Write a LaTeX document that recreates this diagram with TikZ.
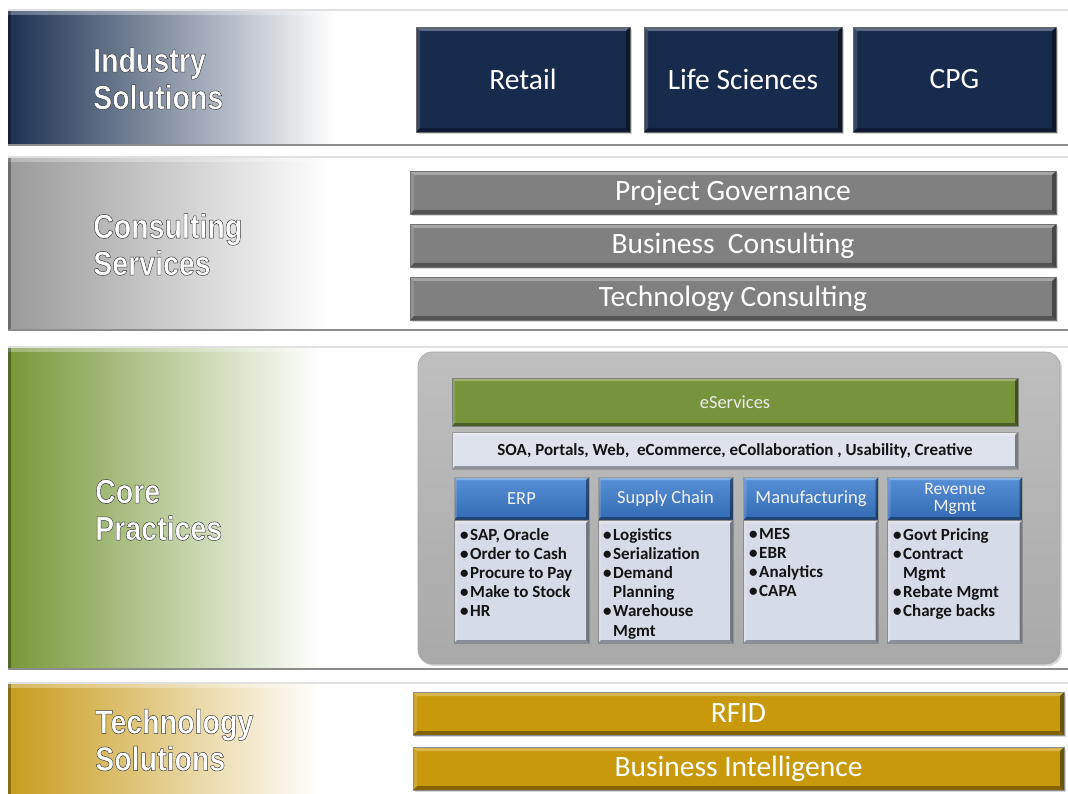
\documentclass[tikz,border=0pt]{standalone}
\usepackage{fontspec}
\setmainfont{Carlito}
\newfontfamily\lblfont{Liberation Sans}
\usetikzlibrary{shadows}
\definecolor{navybox}{HTML}{172B4D}
\definecolor{navyband}{HTML}{1C3152}
\definecolor{greyband}{HTML}{9A9A9A}
\definecolor{greenband}{HTML}{779838}
\definecolor{goldband}{HTML}{C89C1C}
\definecolor{greybar}{HTML}{808080}
\definecolor{goldbar}{HTML}{C8990A}
\definecolor{esgreen}{HTML}{77933C}
\definecolor{panelgrey}{HTML}{A9A9A9}
\definecolor{soafill}{HTML}{DDE2EC}
\definecolor{hdrblue}{HTML}{3B7DD2}
\definecolor{bodyfill}{HTML}{D5DBE7}

\newcommand\layerband[5]{% #1 top, #2 bottom, #3 colour, #4 gradient end x, #5 mid colour
  \shade[left color=#3, middle color=#5, right color=white] (8,#1) rectangle (#4,#2);
  \fill[white,opacity=.30] (8,#1) rectangle (#4,#1+5);
  \fill[black,opacity=.30] (8,#1) rectangle (11,#2);
  \draw[black!12,line width=1.5pt] (8,#1) -- (1068,#1);
  \draw[black!45,line width=2.5pt] (8,#2) -- (1068,#2);
}
% white label text with a dark outline (fill + stroke text rendering)
\newcommand\shtxt[1]{\special{pdf:literal direct 2 Tr 0.5 w 1 j 0.22 0.22 0.22 RG}#1\special{pdf:literal direct 0 Tr}}

\tikzset{
  bvl/.style={path picture={
    \fill[white,opacity=.30] (path picture bounding box.north west) -- (path picture bounding box.north east)
      -- ([xshift=-#1,yshift=-#1]path picture bounding box.north east) -- ([xshift=#1,yshift=-#1]path picture bounding box.north west) -- cycle;
    \fill[white,opacity=.15] (path picture bounding box.north west) -- (path picture bounding box.south west)
      -- ([xshift=#1,yshift=#1]path picture bounding box.south west) -- ([xshift=#1,yshift=-#1]path picture bounding box.north west) -- cycle;
    \fill[black,opacity=.35] (path picture bounding box.south west) -- (path picture bounding box.south east)
      -- ([xshift=-#1,yshift=#1]path picture bounding box.south east) -- ([xshift=#1,yshift=#1]path picture bounding box.south west) -- cycle;
    \fill[black,opacity=.45] (path picture bounding box.north east) -- (path picture bounding box.south east)
      -- ([xshift=-#1,yshift=#1]path picture bounding box.south east) -- ([xshift=-#1,yshift=-#1]path picture bounding box.north east) -- cycle;
  }},
  bvl/.default=4pt,
  lbl/.style={font=\lblfont\bfseries\fontsize{34}{37}\selectfont, text=white, align=left, anchor=west, inner sep=0pt, xscale=0.84},
  topbox/.style={draw=black!60, line width=.6pt, fill=navybox, bvl=4pt, text=white, font=\fontsize{29.5}{31}\selectfont, minimum height=105pt, inner sep=0pt,
    drop shadow={opacity=.35, shadow xshift=2pt, shadow yshift=-2pt}},
  greybarbox/.style={draw=black!55, line width=.6pt, fill=greybar, bvl=4pt, text=white, font=\fontsize{29.5}{31}\selectfont, minimum width=646pt, minimum height=43pt, inner sep=0pt,
    drop shadow={opacity=.3, shadow xshift=2pt, shadow yshift=-2pt}},
  goldbarbox/.style={draw=black!45, line width=.6pt, fill=goldbar, bvl=4pt, text=white, font=\fontsize{29.5}{31}\selectfont, minimum width=651pt, minimum height=43pt, inner sep=0pt,
    drop shadow={opacity=.3, shadow xshift=2pt, shadow yshift=-2pt}},
  hdrbox/.style={draw=black!40, line width=.5pt, top color=hdrblue!85!white, bottom color=hdrblue!85!black, bvl=3pt, text=white!95!black, font=\fontsize{18.5}{18}\selectfont, align=center,
    minimum width=135pt, minimum height=43pt, inner sep=0pt},
  bodybox/.style={draw=black!45, line width=.5pt, fill=bodyfill, bvl=3pt, minimum width=135pt, minimum height=123pt, inner sep=0pt},
  bullets/.style={anchor=north west, align=left, inner sep=0pt, text=black!92, font=\bfseries\fontsize{17}{19.2}\selectfont},
}
\newcommand\bu{\makebox[10pt][l]{\textbullet}}
\newcommand\bi{\hspace{10pt}}

\begin{document}
\begin{tikzpicture}[x=1pt,y=-1pt]
\useasboundingbox (0,0) rectangle (1068,794);
\fill[white] (0,0) rectangle (1068,794);

% ---- bands
\layerband{10}{145}{navyband}{335}{navyband!50!white}
\layerband{157}{330}{greyband}{330}{greyband!55!white}
\layerband{347}{669}{greenband}{320}{greenband!45!white}
\shade[left color=goldband, middle color=goldband!50!white, right color=white] (8,683) rectangle (320,800);
\fill[white,opacity=.30] (8,683) rectangle (320,688);
\fill[black,opacity=.30] (8,683) rectangle (11,800);
\draw[black!12,line width=1.5pt] (8,683) -- (1068,683);

% ---- band labels
\node[lbl] (l1) at (93,78.5) {\shtxt{Industry\\Solutions}};
\node[lbl] (l2) at (93,244.5) {\shtxt{Consulting\\Services}};
\node[lbl] (l3) at (95,510) {\shtxt{Core\\Practices}};
\node[lbl] (l4) at (95,740) {\shtxt{Technology\\Solutions}};

% ---- industry solutions
\node[topbox, minimum width=214pt] (retail) at (523,79.5) {Retail};
\node[topbox, minimum width=198pt] (life) at (743,79.5) {Life Sciences};
\node[topbox, minimum width=203pt] (cpg) at (954.5,79.5) {CPG};

% ---- consulting services
\node[greybarbox] (pg) at (733,192.5) {Project Governance};
\node[greybarbox] (bc) at (733,245.5) {Business\ \ Consulting};
\node[greybarbox] (tc) at (733,298.5) {Technology Consulting};

% ---- core practices
\node[draw=black!35, line width=.6pt, rounded corners=14pt, top color=panelgrey!75!white, bottom color=panelgrey,
      minimum width=642pt, minimum height=312pt, inner sep=0pt,
      drop shadow={opacity=.3, shadow xshift=2pt, shadow yshift=-2pt}] (panel) at (739,508) {};
\node[draw=black!50, line width=.8pt, fill=esgreen, bvl=3pt, minimum width=566pt, minimum height=48pt, inner sep=0pt,
      text=white!92!black, font=\fontsize{18.5}{18}\selectfont] (es) at (735,402) {eServices};
\node[draw=black!40, line width=.6pt, fill=soafill, bvl=3pt, minimum width=566pt, minimum height=37pt, inner sep=0pt,
      text=black!92, font=\bfseries\fontsize{17}{18}\selectfont] (soa) at (735,450.5) {SOA, Portals, Web,\ \ eCommerce, eCollaboration , Usability, Creative};

\node[hdrbox] (erp) at (521.5,498.5) {ERP};
\node[hdrbox] (sc) at (665.5,498.5) {Supply Chain};
\node[hdrbox] (mfg) at (811,498.5) {Manufacturing};
\node[hdrbox, font=\fontsize{17.5}{17}\selectfont] (rev) at (955,498.5) {Revenue\\Mgmt};

\node[bodybox] (erpb) at (521.5,581.5) {};
\node[bodybox] (scb) at (665.5,581.5) {};
\node[bodybox] (mfgb) at (811,581.5) {};
\node[bodybox] (revb) at (955,581.5) {};

\node[bullets] (erpt) at (460,528) {\bu SAP, Oracle\\\bu Order to Cash\\\bu Procure to Pay\\\bu Make to Stock\\\bu HR};
\node[bullets] (sct) at (603,528) {\bu Logistics\\\bu Serialization\\\bu Demand\\\bi Planning\\\bu Warehouse\\\bi Mgmt};
\node[bullets] (mfgt) at (749,528) {\bu MES\\\bu EBR\\\bu Analytics\\\bu CAPA};
\node[bullets] (revt) at (893,528) {\bu Govt Pricing\\\bu Contract\\\bi Mgmt\\\bu Rebate Mgmt\\\bu Charge backs};

% ---- technology solutions
\node[goldbarbox] (rfid) at (738.5,713.5) {RFID};
\node[goldbarbox] (bi) at (738.5,768.5) {Business Intelligence};
\end{tikzpicture}
\end{document}
